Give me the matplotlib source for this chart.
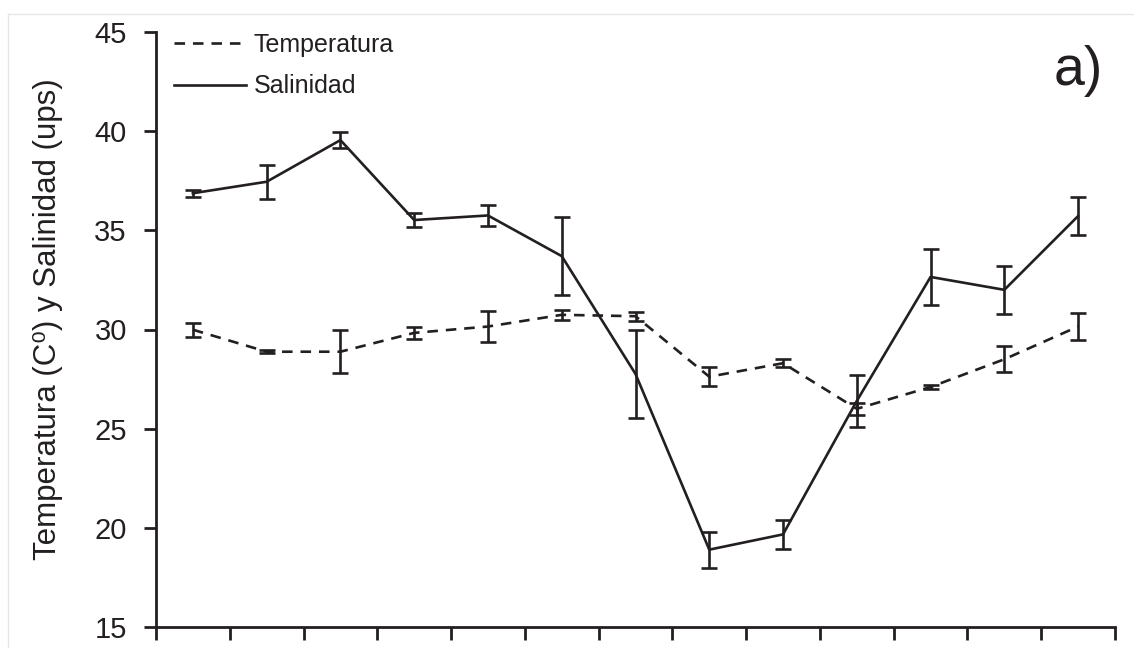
import numpy as np
import matplotlib.pyplot as plt
from matplotlib.lines import Line2D

plt.rcParams['font.family'] = ['Liberation Sans', 'DejaVu Sans']

# 13 muestreos
muestreos = np.arange(1, 14)
salinidad = [36.87, 37.45, 39.55, 35.52, 35.75, 33.7, 27.76, 18.9, 19.67, 26.4, 32.65, 32.0, 35.72]
salinidad_err = [0.17, 0.86, 0.42, 0.34, 0.53, 1.96, 2.2, 0.9, 0.75, 1.3, 1.4, 1.2, 0.95]
temperatura = [29.99, 28.88, 28.88, 29.83, 30.15, 30.74, 30.67, 27.62, 28.3, 26.0, 27.1, 28.5, 30.15]
temperatura_err = [0.35, 0.08, 1.09, 0.32, 0.8, 0.26, 0.23, 0.47, 0.2, 0.3, 0.1, 0.65, 0.67]

col = '#231f20'

fig = plt.figure(figsize=(11.34, 6.48), dpi=100)
ax = fig.add_axes([156/1134, 1 - 627/648, (1115-156)/1134, (627-32)/648])

t = ax.errorbar(muestreos, temperatura, yerr=temperatura_err, color=col, lw=1.9,
                capsize=6, capthick=1.9, elinewidth=1.9, label='Temperatura')
t[0].set_dashes((4, 3))
ax.errorbar(muestreos, salinidad, yerr=salinidad_err, color=col, lw=1.9,
            capsize=6, capthick=1.9, elinewidth=1.9, label='Salinidad')

ax.set_xlim(0.5, 13.5)
ax.set_ylim(15, 45)
ax.set_yticks(np.arange(15, 46, 5))
ax.set_xticks(np.arange(0.5, 13.6, 1))
ax.set_xticklabels([])
for s in ['top', 'right']:
    ax.spines[s].set_visible(False)
for s in ['left', 'bottom']:
    ax.spines[s].set_linewidth(2)
    ax.spines[s].set_color(col)
ax.tick_params(axis='both', direction='out', length=9, width=2, color=col)
ax.tick_params(axis='y', labelsize=21, pad=12, labelcolor=col)
ax.set_ylabel('Temperatura (C⁰) y Salinidad (ups)', fontsize=22.5, color=col)
ax.yaxis.set_label_coords(-0.097, 0.518)

handles = [Line2D([], [], color=col, lw=1.9, dashes=(4, 3)),
           Line2D([], [], color=col, lw=1.9)]
ax.legend(handles, ['Temperatura', 'Salinidad'], loc='upper left', bbox_to_anchor=(0.0, 1.028),
          frameon=False, fontsize=18, handlelength=2.9, handletextpad=0.3, labelspacing=0.7,
          borderaxespad=0.3, labelcolor=col)

ax.text(0.987, 0.935, 'a)', transform=ax.transAxes, fontsize=40, ha='right', va='center', color=col)

# marco gris claro de la figura
fig.add_artist(Line2D([8/1134, 1], [1 - 14/648, 1 - 14/648], color='#e6e6e6', lw=1))
fig.add_artist(Line2D([8/1134, 8/1134], [0, 1 - 14/648], color='#e6e6e6', lw=1))

fig.savefig('out.png', dpi=100)
